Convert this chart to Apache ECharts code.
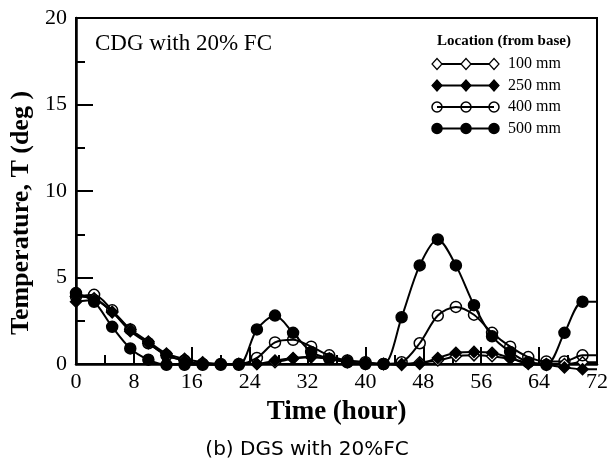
<!DOCTYPE html>
<html>
<head>
<meta charset="utf-8">
<script src="https://cdn.jsdelivr.net/npm/echarts@6/dist/echarts.min.js"></script>
<style>
  html, body { margin: 0; padding: 0; background: #fff; }
  #chart { width: 614px; height: 473px; }
</style>
</head>
<body>
<div id="chart"></div>
<script>
// time (hour), last point is the line tail to the right border
var times = [0, 2.5, 5, 7.5, 10, 12.5, 15, 17.5, 20, 22.5, 25, 27.5, 30, 32.5, 35, 37.5, 40, 42.5, 45, 47.5, 50, 52.5, 55, 57.5, 60, 62.5, 65, 67.5, 70, 72];

var t100 = [3.9, 3.8, 3.0, 2.0, 1.3, 0.6, 0.3, 0.1, 0, 0, 0, 0.1, 0.3, 0.4, 0.3, 0.2, 0.1, 0, 0, 0.1, 0.2, 0.45, 0.5, 0.45, 0.3, 0.1, 0, 0, 0.1, 0.1];
var t250 = [3.6, 3.7, 3.0, 1.9, 1.2, 0.5, 0.2, 0, 0, 0, 0, 0.2, 0.35, 0.4, 0.3, 0.1, 0, 0, -0.05, 0, 0.35, 0.65, 0.7, 0.65, 0.35, 0, -0.05, -0.2, -0.3, -0.3];
var t400 = [3.9, 4.0, 3.1, 2.0, 1.2, 0.5, 0.2, 0, 0, 0, 0.35, 1.25, 1.4, 1.0, 0.5, 0.2, 0.1, 0, 0.1, 1.2, 2.8, 3.3, 2.85, 1.8, 1.0, 0.4, 0.15, 0.15, 0.5, 0.5];
var t500 = [4.1, 3.6, 2.15, 0.9, 0.25, -0.05, -0.05, -0.05, -0.05, -0.05, 2.0, 2.8, 1.8, 0.7, 0.3, 0.1, 0, 0, 2.7, 5.7, 7.2, 5.7, 3.4, 1.6, 0.7, 0.1, -0.05, 1.8, 3.6, 3.6];

var xTicks = { min: 0, max: 72, interval: 8 };
var yTicks = { min: 0, max: 20, interval: 5 };

var serif = 'Liberation Serif';

function pairs(vals) {
    return times.map(function (t, i) { return [t, vals[i]]; });
}

function makeSeries(name, vals, symbol, fill) {
    return {
        name: name,
        type: 'line',
        data: pairs(vals),
        smooth: 0.3,
        clip: false,
        symbol: function (v, p) { return p.dataIndex === times.length - 1 ? 'none' : symbol; },
        symbolSize: 11,
        lineStyle: { color: '#000', width: 2 },
        itemStyle: { color: fill, borderColor: '#000', borderWidth: 1.5 },
        emphasis: { disabled: true }
    };
}

// legend drawn as small graphic samples
var legendItems = [
    { label: '100 mm', symbol: 'diamond', fill: '#fff' },
    { label: '250 mm', symbol: 'diamond', fill: '#000' },
    { label: '400 mm', symbol: 'circle', fill: 'rgba(0,0,0,0)' },
    { label: '500 mm', symbol: 'circle', fill: '#000' }
];
var legendGraphics = [{
    type: 'text', left: 437, top: 34,
    style: { text: 'Location (from base)', font: 'bold 15px "Liberation Serif"', fill: '#000' }
}];
legendItems.forEach(function (it, i) {
    var y = 64 + i * 21.5;
    legendGraphics.push({
        type: 'line', shape: { x1: 437, y1: y, x2: 494, y2: y },
        style: { stroke: '#000', lineWidth: 2 }
    });
    [437, 466, 494].forEach(function (x) {
        if (it.symbol === 'circle') {
            legendGraphics.push({
                type: 'circle', shape: { cx: x, cy: y, r: 5 },
                style: { fill: it.fill, stroke: '#000', lineWidth: 1.5 }
            });
        } else {
            legendGraphics.push({
                type: 'polygon', shape: { points: [[x, y - 5.5], [x + 5, y], [x, y + 5.5], [x - 5, y]] },
                style: { fill: it.fill, stroke: '#000', lineWidth: 1.2 }
            });
        }
    });
    legendGraphics.push({
        type: 'text', left: 508, top: y - 8,
        style: { text: it.label, font: '16px "Liberation Serif"', fill: '#000' }
    });
});

var dom = document.getElementById('chart');
var myChart = echarts.init(dom, null, { renderer: 'canvas' });

var option = {
    backgroundColor: '#fff',
    animation: false,
    grid: {
        left: 76, right: 17, top: 18, bottom: 109,
        show: true, borderColor: '#000', borderWidth: 2
    },
    xAxis: {
        type: 'value',
        min: xTicks.min, max: xTicks.max, interval: xTicks.interval,
        name: 'Time (hour)',
        nameLocation: 'middle',
        nameGap: 35,
        nameTextStyle: { fontFamily: serif, fontWeight: 'bold', fontSize: 27, color: '#000' },
        axisLine: { lineStyle: { color: '#000', width: 2.5 } },
        axisTick: { inside: true, length: 17, lineStyle: { color: '#000', width: 2 } },
        minorTick: { show: true, splitNumber: 2, length: 9, lineStyle: { color: '#000', width: 2 } },
        axisLabel: { fontFamily: serif, fontSize: 22, color: '#000', margin: 7 },
        splitLine: { show: false }
    },
    yAxis: {
        type: 'value',
        min: yTicks.min, max: yTicks.max, interval: yTicks.interval,
        name: 'Temperature, T (deg )',
        nameLocation: 'middle',
        nameGap: 40,
        nameTextStyle: {
            fontFamily: serif, fontWeight: 'bold', fontSize: 26, color: '#000',
            padding: [0, 44, 0, 0]
        },
        axisLine: { lineStyle: { color: '#000', width: 2.5 } },
        axisTick: { inside: true, length: 17, lineStyle: { color: '#000', width: 2 } },
        minorTick: { show: true, splitNumber: 2, length: 9, lineStyle: { color: '#000', width: 2 } },
        axisLabel: { fontFamily: serif, fontSize: 22, color: '#000', margin: 9 },
        splitLine: { show: false }
    },
    graphic: [
        {
            type: 'text', left: 95, top: 32,
            style: { text: 'CDG with 20% FC', font: '23px "Liberation Serif"', fill: '#000' }
        },
        {
            type: 'text', left: 'center', top: 440,
            style: { text: '(b) DGS with 20%FC', font: '20px "DejaVu Sans"', fill: '#000' }
        }
    ].concat(legendGraphics),
    series: [
        makeSeries('100 mm', t100, 'diamond', '#fff'),
        makeSeries('250 mm', t250, 'diamond', '#000'),
        makeSeries('400 mm', t400, 'circle', 'rgba(0,0,0,0)'),
        makeSeries('500 mm', t500, 'circle', '#000')
    ]
};
myChart.setOption(option);
window.addEventListener('resize', myChart.resize);
</script>
</body>
</html>
